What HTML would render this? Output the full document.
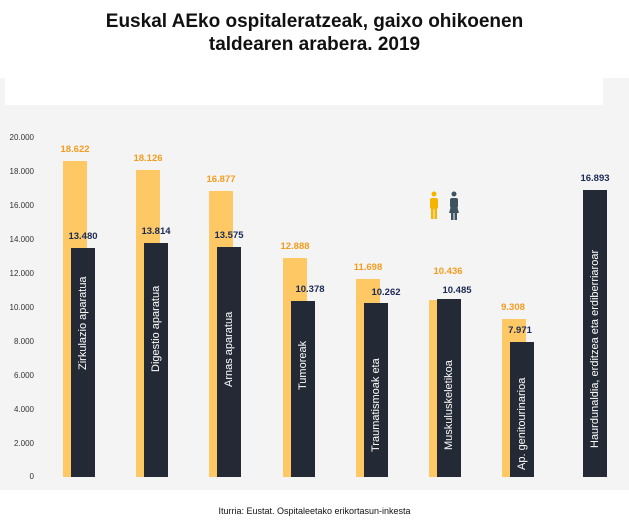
<!DOCTYPE html>
<html><head><meta charset="utf-8"><style>
body{margin:0;width:629px;height:524px;background:#fff;font-family:"Liberation Sans",sans-serif;position:relative;overflow:hidden}
.t{position:absolute;left:0;width:629px;top:10px;text-align:center;font-weight:bold;font-size:19px;line-height:23px;color:#111}
.bg{position:absolute;left:0;top:78px;width:629px;height:412px;background:#f4f4f4}
.wb{position:absolute;left:5px;top:78px;width:598px;height:27px;background:#fff}
.y{position:absolute;left:0;width:34px;text-align:right;font-size:8px;color:#333}
.o{position:absolute;background:#fec965;width:24px}
.d{position:absolute;background:#232a35;width:24px}
.lo,.ld{position:absolute;width:60px;text-align:center;font-size:9.5px;font-weight:bold}
.lo{color:#f39c1e}.ld{color:#1b2a55}
.r{position:absolute;color:#fff;font-size:11px;white-space:nowrap;transform:rotate(-90deg);transform-origin:0 0}
.src{position:absolute;top:506px;left:0;width:629px;text-align:center;font-size:9px;color:#111}
</style></head><body>
<div class="t">Euskal AEko ospitaleratzeak, gaixo ohikoenen<br>taldearen arabera. 2019</div>
<div class="bg"></div><div class="wb"></div>
<div class="y" style="top:133px">20.000</div>
<div class="y" style="top:167px">18.000</div>
<div class="y" style="top:201px">16.000</div>
<div class="y" style="top:235px">14.000</div>
<div class="y" style="top:269px">12.000</div>
<div class="y" style="top:303px">10.000</div>
<div class="y" style="top:337px">8.000</div>
<div class="y" style="top:371px">6.000</div>
<div class="y" style="top:405px">4.000</div>
<div class="y" style="top:439px">2.000</div>
<div class="y" style="top:472px">0</div>

<div class="o" style="left:63px;top:161px;height:316px"></div><div class="d" style="left:71px;top:248px;height:229px"></div>
<div class="lo" style="left:45px;top:144px">18.622</div><div class="ld" style="left:53px;top:231px">13.480</div>
<div class="r" style="left:77px;top:370px">Zirkulazio aparatua</div>

<div class="o" style="left:136px;top:170px;height:307px"></div><div class="d" style="left:144px;top:243px;height:234px"></div>
<div class="lo" style="left:118px;top:153px">18.126</div><div class="ld" style="left:126px;top:226px">13.814</div>
<div class="r" style="left:150px;top:372px">Digestio aparatua</div>

<div class="o" style="left:209px;top:191px;height:286px"></div><div class="d" style="left:217px;top:247px;height:230px"></div>
<div class="lo" style="left:191px;top:174px">16.877</div><div class="ld" style="left:199px;top:230px">13.575</div>
<div class="r" style="left:223px;top:387px">Arnas aparatua</div>

<div class="o" style="left:283px;top:258px;height:219px"></div><div class="d" style="left:291px;top:301px;height:176px"></div>
<div class="lo" style="left:265px;top:241px">12.888</div><div class="ld" style="left:280px;top:284px">10.378</div>
<div class="r" style="left:297px;top:390px">Tumoreak</div>

<div class="o" style="left:356px;top:279px;height:198px"></div><div class="d" style="left:364px;top:303px;height:174px"></div>
<div class="lo" style="left:338px;top:262px">11.698</div><div class="ld" style="left:356px;top:287px">10.262</div>
<div class="r" style="left:370px;top:452px">Traumatismoak eta</div>

<div class="o" style="left:429px;top:300px;height:177px"></div><div class="d" style="left:437px;top:299px;height:178px"></div>
<div class="lo" style="left:418px;top:266px">10.436</div><div class="ld" style="left:427px;top:285px">10.485</div>
<div class="r" style="left:443px;top:450px">Muskuluskeletikoa</div>

<div class="o" style="left:502px;top:319px;height:158px"></div><div class="d" style="left:510px;top:342px;height:135px"></div>
<div class="lo" style="left:483px;top:302px">9.308</div><div class="ld" style="left:490px;top:325px">7.971</div>
<div class="r" style="left:516px;top:470px">Ap. genitourinarioa</div>

<div class="d" style="left:583px;top:190px;height:287px"></div>
<div class="ld" style="left:565px;top:173px">16.893</div>
<div class="r" style="left:589px;top:448px">Haurdunaldia, erditzea eta erdiberriaroar</div>

<svg style="position:absolute;left:427px;top:191px" width="40" height="34">
<g fill="#f5b400"><circle cx="7" cy="3" r="2.5"/><rect x="3" y="7" width="8" height="11" rx="2"/><rect x="4" y="16" width="2.5" height="12"/><rect x="7.5" y="16" width="2.5" height="12"/></g>
<g fill="#3e5260"><circle cx="27" cy="3" r="2.5"/><rect x="23" y="7" width="8" height="10" rx="2"/><polygon points="24,15 30,15 32,22 22,22"/><rect x="24" y="21" width="2.5" height="8"/><rect x="27.5" y="21" width="2.5" height="8"/></g>
</svg>
<div class="src">Iturria: Eustat. Ospitaleetako erikortasun-inkesta</div>
</body></html>
